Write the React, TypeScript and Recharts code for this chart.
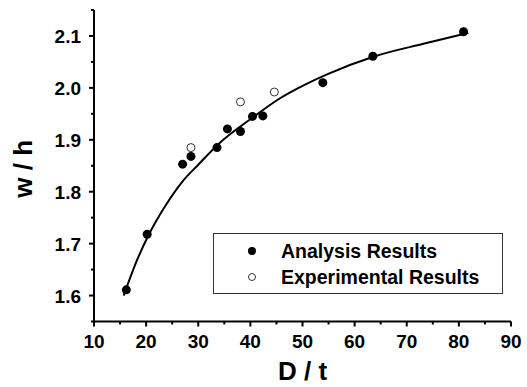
import React from "react";
import { ComposedChart, XAxis, YAxis, Scatter, Line } from "recharts";

// ── Data ──────────────────────────────────────────────────────────────────────

const analysisX = [16.2, 20.2, 27.0, 28.6, 33.6, 35.6, 38.1, 40.4, 42.4, 53.9, 63.5, 80.9];
const analysisY = [1.611, 1.718, 1.853, 1.868, 1.885, 1.921, 1.916, 1.945, 1.946, 2.01, 2.061, 2.108];

const experimentX = [28.6, 38.1, 44.6];
const experimentY = [1.885, 1.973, 1.992];

// fitted curve
const fitX = [15.7, 18.0, 20.5, 23.7, 27.0, 30.0, 33.9, 40.6, 45.7, 48.9, 54.7, 63.9, 73.2, 81.8];
const fitY = [1.6, 1.662, 1.717, 1.773, 1.82, 1.852, 1.892, 1.944, 1.98, 1.998, 2.026, 2.061, 2.085, 2.106];

const xTicks = [10, 15, 20, 25, 30, 35, 40, 45, 50, 55, 60, 65, 70, 75, 80, 85, 90];
const xLabels = [10, 20, 30, 40, 50, 60, 70, 80, 90];
const yTicks = [1.55, 1.6, 1.65, 1.7, 1.75, 1.8, 1.85, 1.9, 1.95, 2.0, 2.05, 2.1, 2.15];
const yLabels = ["1.6", "1.7", "1.8", "1.9", "2.0", "2.1"];

const analysis = analysisX.map((x, i) => ({ x, y: analysisY[i] }));
const experiment = experimentX.map((x, i) => ({ x, y: experimentY[i] }));
const fit = fitX.map((x, i) => ({ x, y: fitY[i] }));

const FONT = "'Liberation Sans', Arial, sans-serif";

// ── Ticks ─────────────────────────────────────────────────────────────────────

function XTick({ x, y, payload }: any) {
  const v = payload.value;
  const major = xLabels.some((m) => Math.abs(m - v) < 1e-6);
  return (
    <g>
      <line x1={x} y1={y} x2={x} y2={y + (major ? 5 : 3)} stroke="#000" strokeWidth={2} />
      {major && (
        <text x={x} y={y + 26} textAnchor="middle" fontFamily={FONT} fontWeight="bold" fontSize={19} fill="#000">
          {v}
        </text>
      )}
    </g>
  );
}

function YTick({ x, y, payload }: any) {
  const v = payload.value;
  const label = yLabels.find((m) => Math.abs(parseFloat(m) - v) < 1e-6);
  return (
    <g>
      <line x1={x} y1={y} x2={x - (label ? 5 : 3)} y2={y} stroke="#000" strokeWidth={2} />
      {label && (
        <text x={x - 13} y={y + 7} textAnchor="end" fontFamily={FONT} fontWeight="bold" fontSize={19} fill="#000">
          {label}
        </text>
      )}
    </g>
  );
}

const FilledDot = (p: any) => <circle cx={p.cx} cy={p.cy} r={4.5} fill="#000" />;
const OpenDot = (p: any) => <circle cx={p.cx} cy={p.cy} r={4} fill="#fff" stroke="#333" strokeWidth={1} />;

// ── Chart ─────────────────────────────────────────────────────────────────────

export default function App() {
  return (
    <div style={{ position: "absolute", left: 0, top: 0, width: 527, height: 387, background: "#fff" }}>
      <ComposedChart width={527} height={387} margin={{ top: 10, right: 16, bottom: 0, left: 0 }}>
        <XAxis
          type="number"
          dataKey="x"
          domain={[10, 90]}
          ticks={xTicks}
          interval={0}
          height={65.5}
          tickSize={0}
          tickMargin={0}
          tickLine={false}
          tick={<XTick />}
          axisLine={{ stroke: "#000", strokeWidth: 2 }}
          allowDataOverflow
          label={{
            content: (p: any) => (
              <text
                x={p.viewBox.x + p.viewBox.width / 2}
                y={p.viewBox.y + 58.5}
                textAnchor="middle"
                fontFamily={FONT}
                fontWeight="bold"
                fontSize={26}
                fill="#000"
              >
                D / t
              </text>
            ),
          }}
        />
        <YAxis
          type="number"
          dataKey="y"
          domain={[1.55, 2.15]}
          ticks={yTicks}
          interval={0}
          width={94}
          tickSize={0}
          tickMargin={0}
          tickLine={false}
          tick={<YTick />}
          axisLine={{ stroke: "#000", strokeWidth: 2 }}
          allowDataOverflow
          label={{
            content: (p: any) => {
              const cy = p.viewBox.y + p.viewBox.height / 2 + 3;
              return (
                <text
                  x={32}
                  y={cy}
                  transform={`rotate(-90, 32, ${cy})`}
                  textAnchor="middle"
                  fontFamily={FONT}
                  fontWeight="bold"
                  fontSize={26}
                  fill="#000"
                >
                  w / h
                </text>
              );
            },
          }}
        />
        <Line
          data={fit}
          dataKey="y"
          type="monotone"
          stroke="#000"
          strokeWidth={2}
          dot={false}
          activeDot={false}
          isAnimationActive={false}
        />
        <Scatter data={analysis} dataKey="y" shape={FilledDot} isAnimationActive={false} />
        <Scatter data={experiment} dataKey="y" shape={OpenDot} isAnimationActive={false} />
      </ComposedChart>

      {/* legend box */}
      <div
        style={{
          position: "absolute",
          left: 213,
          top: 233,
          width: 288,
          height: 59,
          border: "1px solid #333",
          background: "#fff",
          fontFamily: FONT,
          fontWeight: "bold",
          fontSize: 19.5,
          color: "#000",
        }}
      >
        <svg width={20} height={60} style={{ position: "absolute", left: 28, top: 0 }}>
          <circle cx={10} cy={17} r={4} fill="#000" />
          <circle cx={10} cy={43} r={3.5} fill="#fff" stroke="#333" strokeWidth={1} />
        </svg>
        <div style={{ position: "absolute", left: 67, top: 5, lineHeight: "24px", whiteSpace: "nowrap" }}>
          Analysis Results
        </div>
        <div style={{ position: "absolute", left: 67, top: 31, lineHeight: "24px", whiteSpace: "nowrap" }}>
          Experimental Results
        </div>
      </div>
    </div>
  );
}
